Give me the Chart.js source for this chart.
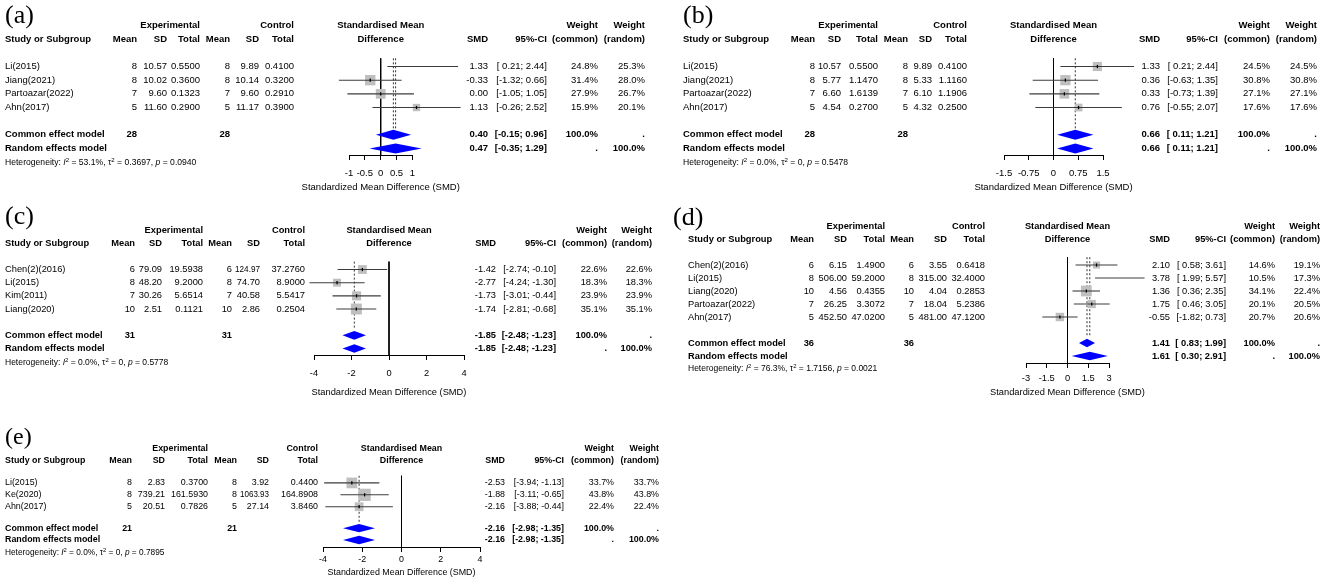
<!DOCTYPE html>
<html>
<head>
<meta charset="utf-8">
<script src="https://cdn.jsdelivr.net/npm/chart.js@4.4.1/dist/chart.umd.min.js"></script>
<style>
  body { margin: 0; background: #fff; width: 1325px; height: 581px; position: relative; overflow: hidden; }
  canvas { position: absolute; }
</style>
</head>
<body>
<canvas id="pa"></canvas>
<canvas id="pb"></canvas>
<canvas id="pc"></canvas>
<canvas id="pd"></canvas>
<canvas id="pe"></canvas>
<script>
// ---- panel (a) ----
const aStudy = ["Li(2015)", "Jiang(2021)", "Partoazar(2022)", "Ahn(2017)"];
const aExpMean = [8, 8, 7, 5];
const aExpSd = [10.57, 10.02, 9.60, 11.60];
const aExpTotal = [0.5500, 0.3600, 0.1323, 0.2900];
const aCtrlMean = [8, 8, 7, 5];
const aCtrlSd = [9.89, 10.14, 9.60, 11.17];
const aCtrlTotal = [0.4100, 0.3200, 0.2910, 0.3900];
const aSmd = [1.33, -0.33, 0.00, 1.13];
const aLow = [0.21, -1.32, -1.05, -0.26];
const aHigh = [2.44, 0.66, 1.05, 2.52];
const aWCommon = [24.8, 31.4, 27.9, 15.9];
const aWRandom = [25.3, 28.0, 26.7, 20.1];
const aCommon = [0.40, -0.15, 0.96];
const aRandom = [0.47, -0.35, 1.29];
const aTotals = [28, 28];
const aHet = [53.1, 0.3697, 0.0940];
const aTicks = [-1, -0.5, 0, 0.5, 1];

// ---- panel (b) ----
const bStudy = ["Li(2015)", "Jiang(2021)", "Partoazar(2022)", "Ahn(2017)"];
const bExpMean = [8, 8, 7, 5];
const bExpSd = [10.57, 5.77, 6.60, 4.54];
const bExpTotal = [0.5500, 1.1470, 1.6139, 0.2700];
const bCtrlMean = [8, 8, 7, 5];
const bCtrlSd = [9.89, 5.33, 6.10, 4.32];
const bCtrlTotal = [0.4100, 1.1160, 1.1906, 0.2500];
const bSmd = [1.33, 0.36, 0.33, 0.76];
const bLow = [0.21, -0.63, -0.73, -0.55];
const bHigh = [2.44, 1.35, 1.39, 2.07];
const bWCommon = [24.5, 30.8, 27.1, 17.6];
const bWRandom = [24.5, 30.8, 27.1, 17.6];
const bCommon = [0.66, 0.11, 1.21];
const bRandom = [0.66, 0.11, 1.21];
const bTotals = [28, 28];
const bHet = [0.0, 0, 0.5478];
const bTicks = [-1.5, -0.75, 0, 0.75, 1.5];

// ---- panel (c) ----
const cStudy = ["Chen(2)(2016)", "Li(2015)", "Kim(2011)", "Liang(2020)"];
const cExpMean = [6, 8, 7, 10];
const cExpSd = [79.09, 48.20, 30.26, 2.51];
const cExpTotal = [19.5938, 9.2000, 5.6514, 0.1121];
const cCtrlMean = [6, 8, 7, 10];
const cCtrlSd = [124.97, 74.70, 40.58, 2.86];
const cCtrlTotal = [37.2760, 8.9000, 5.5417, 0.2504];
const cSmd = [-1.42, -2.77, -1.73, -1.74];
const cLow = [-2.74, -4.24, -3.01, -2.81];
const cHigh = [-0.10, -1.30, -0.44, -0.68];
const cWCommon = [22.6, 18.3, 23.9, 35.1];
const cWRandom = [22.6, 18.3, 23.9, 35.1];
const cCommon = [-1.85, -2.48, -1.23];
const cRandom = [-1.85, -2.48, -1.23];
const cTotals = [31, 31];
const cHet = [0.0, 0, 0.5778];
const cTicks = [-4, -2, 0, 2, 4];

// ---- panel (d) ----
const dStudy = ["Chen(2)(2016)", "Li(2015)", "Liang(2020)", "Partoazar(2022)", "Ahn(2017)"];
const dExpMean = [6, 8, 10, 7, 5];
const dExpSd = [6.15, 506.00, 4.56, 26.25, 452.50];
const dExpTotal = [1.4900, 59.2000, 0.4355, 3.3072, 47.0200];
const dCtrlMean = [6, 8, 10, 7, 5];
const dCtrlSd = [3.55, 315.00, 4.04, 18.04, 481.00];
const dCtrlTotal = [0.6418, 32.4000, 0.2853, 5.2386, 47.1200];
const dSmd = [2.10, 3.78, 1.36, 1.75, -0.55];
const dLow = [0.58, 1.99, 0.36, 0.46, -1.82];
const dHigh = [3.61, 5.57, 2.35, 3.05, 0.73];
const dWCommon = [14.6, 10.5, 34.1, 20.1, 20.7];
const dWRandom = [19.1, 17.3, 22.4, 20.5, 20.6];
const dCommon = [1.41, 0.83, 1.99];
const dRandom = [1.61, 0.30, 2.91];
const dTotals = [36, 36];
const dHet = [76.3, 1.7156, 0.0021];
const dTicks = [-3, -1.5, 0, 1.5, 3];

// ---- panel (e) ----
const eStudy = ["Li(2015)", "Ke(2020)", "Ahn(2017)"];
const eExpMean = [8, 8, 5];
const eExpSd = [2.83, 739.21, 20.51];
const eExpTotal = [0.3700, 161.5930, 0.7826];
const eCtrlMean = [8, 8, 5];
const eCtrlSd = [3.92, 1063.93, 27.14];
const eCtrlTotal = [0.4400, 164.8908, 3.8460];
const eSmd = [-2.53, -1.88, -2.16];
const eLow = [-3.94, -3.11, -3.88];
const eHigh = [-1.13, -0.65, -0.44];
const eWCommon = [33.7, 43.8, 22.4];
const eWRandom = [33.7, 43.8, 22.4];
const eCommon = [-2.16, -2.98, -1.35];
const eRandom = [-2.16, -2.98, -1.35];
const eTotals = [21, 21];
const eHet = [0.0, 0, 0.7895];
const eTicks = [-4, -2, 0, 2, 4];

const FONT = "'Liberation Sans', Arial, sans-serif";
Chart.defaults.font.family = FONT;
Chart.defaults.color = '#000';

const panels = [
  { id: 'pa', label: '(a)', box: [0, 0, 660, 200], labelX: 5, labelBase: 23, labelSize: 26,
    font: 9.5, hetFont: 8.6, row0: 25.5, lineH: 13.67, studyRow: 3, sumRow: 8, hetRow: 10.05,
    axisY: 155, ax0: 349, ax1: 412.4, tickY: 173, titleY: 187, diaH: 5,
    cols: { name: 5, m1: 137, s1: 167, t1: 200, m2: 230, s2: 259, t2: 294, smd: 488, ci: 547, wc: 598, wr: 645 },
    d: { study: aStudy, expMean: aExpMean, expSd: aExpSd, expTotal: aExpTotal, ctrlMean: aCtrlMean, ctrlSd: aCtrlSd,
         ctrlTotal: aCtrlTotal, smd: aSmd, lo: aLow, hi: aHigh, wc: aWCommon, wr: aWRandom,
         common: aCommon, random: aRandom, totals: aTotals, het: aHet, ticks: aTicks } },
  { id: 'pb', label: '(b)', box: [660, 0, 665, 200], labelX: 683, labelBase: 23, labelSize: 26,
    font: 9.5, hetFont: 8.6, row0: 25.5, lineH: 13.67, studyRow: 3, sumRow: 8, hetRow: 10.05,
    axisY: 155, ax0: 1004, ax1: 1103, tickY: 173, titleY: 187, diaH: 5,
    cols: { name: 683, m1: 815, s1: 841, t1: 878, m2: 908, s2: 932, t2: 967, smd: 1160, ci: 1218, wc: 1270, wr: 1317 },
    d: { study: bStudy, expMean: bExpMean, expSd: bExpSd, expTotal: bExpTotal, ctrlMean: bCtrlMean, ctrlSd: bCtrlSd,
         ctrlTotal: bCtrlTotal, smd: bSmd, lo: bLow, hi: bHigh, wc: bWCommon, wr: bWRandom,
         common: bCommon, random: bRandom, totals: bTotals, het: bHet, ticks: bTicks } },
  { id: 'pc', label: '(c)', box: [0, 200, 665, 210], labelX: 5, labelBase: 224, labelSize: 26,
    font: 9.3, hetFont: 8.5, row0: 230, lineH: 13.17, studyRow: 3, sumRow: 8, hetRow: 10.1,
    axisY: 355, ax0: 314, ax1: 464, tickY: 373, titleY: 392, diaH: 4.3,
    cols: { name: 5, m1: 135, s1: 162, t1: 203, m2: 232, s2: 260, t2: 305, smd: 496, ci: 556, wc: 607, wr: 652 },
    d: { study: cStudy, expMean: cExpMean, expSd: cExpSd, expTotal: cExpTotal, ctrlMean: cCtrlMean, ctrlSd: cCtrlSd,
         ctrlTotal: cCtrlTotal, smd: cSmd, lo: cLow, hi: cHigh, wc: cWCommon, wr: cWRandom,
         common: cCommon, random: cRandom, totals: cTotals, het: cHet, ticks: cTicks } },
  { id: 'pd', label: '(d)', box: [665, 200, 660, 210], labelX: 673, labelBase: 224.5, labelSize: 26,
    font: 9.3, hetFont: 8.5, row0: 226, lineH: 13, studyRow: 3, sumRow: 9, hetRow: 11,
    axisY: 363, ax0: 1026, ax1: 1109, tickY: 378, titleY: 392, diaH: 4.2,
    cols: { name: 688, m1: 814, s1: 847, t1: 885, m2: 914, s2: 947, t2: 985, smd: 1170, ci: 1226, wc: 1275, wr: 1320 },
    d: { study: dStudy, expMean: dExpMean, expSd: dExpSd, expTotal: dExpTotal, ctrlMean: dCtrlMean, ctrlSd: dCtrlSd,
         ctrlTotal: dCtrlTotal, smd: dSmd, lo: dLow, hi: dHigh, wc: dWCommon, wr: dWRandom,
         common: dCommon, random: dRandom, totals: dTotals, het: dHet, ticks: dTicks } },
  { id: 'pe', label: '(e)', box: [0, 410, 665, 171], labelX: 5, labelBase: 444, labelSize: 24,
    font: 8.9, hetFont: 8.3, row0: 449, lineH: 11.9, studyRow: 2.85, sumRow: 6.65, hetRow: 8.75,
    axisY: 547, ax0: 323, ax1: 480, tickY: 560, titleY: 573, diaH: 4.2,
    cols: { name: 5, m1: 132, s1: 165, t1: 208, m2: 237, s2: 269, t2: 318, smd: 505, ci: 564, wc: 614, wr: 659 },
    d: { study: eStudy, expMean: eExpMean, expSd: eExpSd, expTotal: eExpTotal, ctrlMean: eCtrlMean, ctrlSd: eCtrlSd,
         ctrlTotal: eCtrlTotal, smd: eSmd, lo: eLow, hi: eHigh, wc: eWCommon, wr: eWRandom,
         common: eCommon, random: eRandom, totals: eTotals, het: eHet, ticks: eTicks } }
];

function fmtCI(lo, hi) {
  return '[' + (lo >= 0 ? ' ' : '') + lo.toFixed(2) + '; ' + hi.toFixed(2) + ']';
}

function txt(ctx, s, x, y, align, bold, size, maxW) {
  ctx.font = (bold ? 'bold ' : '') + size + 'px ' + FONT;
  ctx.textAlign = align;
  ctx.textBaseline = 'middle';
  if (maxW) ctx.fillText(s, x, y, maxW);
  else ctx.fillText(s, x, y);
}

function drawHet(ctx, x, y, size, het) {
  const tau = het[1] === 0 ? '0' : het[1].toFixed(4);
  const segs = [
    ['Heterogeneity: ', ''], ['I', 'i'], ['2', 's'], [' = ' + het[0].toFixed(1) + '%, ', ''],
    ['\u03c4', ''], ['2', 's'], [' = ' + tau + ', ', ''], ['p', 'i'], [' = ' + het[2].toFixed(4), '']
  ];
  let cx = x;
  ctx.textAlign = 'left';
  ctx.textBaseline = 'middle';
  segs.forEach(([t, s]) => {
    const fs = s === 's' ? size * 0.7 : size;
    ctx.font = (s === 'i' ? 'italic ' : '') + fs + 'px ' + FONT;
    ctx.fillText(t, cx, s === 's' ? y - size * 0.35 : y);
    cx += ctx.measureText(t).width;
  });
}

// fill the summary diamonds from the points Chart.js placed
const diamondPlugin = {
  id: 'diamondFill',
  afterDatasetsDraw(chart) {
    const ctx = chart.ctx;
    chart.data.datasets.forEach((ds, i) => {
      if (!ds.diamond) return;
      const pts = chart.getDatasetMeta(i).data;
      ctx.save();
      ctx.beginPath();
      pts.forEach((p, k) => (k ? ctx.lineTo(p.x, p.y) : ctx.moveTo(p.x, p.y)));
      ctx.closePath();
      ctx.fillStyle = '#0000ff';
      ctx.fill();
      ctx.restore();
    });
  }
};

function buildPanel(P) {
  const [L, T, W, H] = P.box;
  const cv = document.getElementById(P.id);
  cv.width = W; cv.height = H;
  cv.style.left = L + 'px'; cv.style.top = T + 'px';
  cv.style.width = W + 'px'; cv.style.height = H + 'px';

  const d = P.d;
  const fs = P.font;
  const lh = fs * 1.2;
  const yMax = (P.axisY - P.row0) / P.lineH;
  const scaleH = P.titleY + lh / 2 - P.axisY;
  const tickPad = P.tickY - P.axisY - 5 - lh / 2;
  const rowOf = i => P.studyRow + i;
  const comRow = P.sumRow, ranRow = P.sumRow + 1;
  const topRef = rowOf(0) - 0.6;
  const hh = P.diaH / P.lineH;

  const datasets = [];
  datasets.push({
    type: 'scatter', order: 0, clip: false,
    data: d.smd.map((v, i) => ({ x: v, y: rowOf(i) })),
    pointStyle: 'line', pointRotation: 90, pointRadius: 1.6,
    pointBorderColor: '#000', pointBorderWidth: 1.3
  });
  d.lo.forEach((lo, i) => datasets.push({
    type: 'line', order: 1, clip: false,
    data: [{ x: lo, y: rowOf(i) }, { x: d.hi[i], y: rowOf(i) }],
    borderColor: '#3c3c3c', borderWidth: 1.1, pointRadius: 0
  }));
  datasets.push({
    type: 'scatter', order: 2, clip: false,
    data: d.smd.map((v, i) => ({ x: v, y: rowOf(i) })),
    pointStyle: 'rect',
    pointRadius: c => 1.85 * Math.sqrt(d.wc[c.dataIndex]) / Math.SQRT2,
    pointBackgroundColor: '#bfbfbf', pointBorderWidth: 0, pointBorderColor: 'rgba(0,0,0,0)'
  });
  [[d.common, comRow], [d.random, ranRow]].forEach(([s, r]) => datasets.push({
    type: 'line', order: 3, clip: false, diamond: true, showLine: false,
    data: [{ x: s[1], y: r }, { x: s[0], y: r - hh }, { x: s[2], y: r }, { x: s[0], y: r + hh }],
    pointRadius: 0
  }));
  datasets.push({
    type: 'line', order: 4, clip: false,
    data: [{ x: 0, y: topRef }, { x: 0, y: yMax }],
    borderColor: '#000', borderWidth: 1, pointRadius: 0
  });
  const ests = d.common[0] === d.random[0] ? [d.common[0]] : [d.common[0], d.random[0]];
  ests.forEach(e => datasets.push({
    type: 'line', order: 4, clip: false,
    data: [{ x: e, y: topRef }, { x: e, y: comRow - 0.45 }],
    borderColor: '#333', borderWidth: 1, borderDash: [2, 2], pointRadius: 0
  }));

  const textPlugin = {
    id: 'tableText',
    afterDraw(chart) {
      const ctx = chart.ctx;
      const ys = chart.scales.y;
      const Y = v => ys.getPixelForValue(v);
      const X = px => px - L;
      const c = P.cols;
      const mid = (chart.chartArea.left + chart.chartArea.right) / 2;
      ctx.save();
      ctx.fillStyle = '#000';
      ctx.font = P.labelSize + "px 'Liberation Serif', 'Times New Roman', serif";
      ctx.textAlign = 'left';
      ctx.textBaseline = 'alphabetic';
      ctx.fillText(P.label, X(P.labelX), P.labelBase - T);

      // headers
      const h0 = Y(0), h1 = Y(1);
      txt(ctx, 'Experimental', X(c.t1), h0, 'right', true, fs);
      txt(ctx, 'Control', X(c.t2), h0, 'right', true, fs);
      txt(ctx, 'Standardised Mean', mid, h0, 'center', true, fs);
      txt(ctx, 'Weight', X(c.wc), h0, 'right', true, fs);
      txt(ctx, 'Weight', X(c.wr), h0, 'right', true, fs);
      txt(ctx, 'Study or Subgroup', X(c.name), h1, 'left', true, fs);
      txt(ctx, 'Mean', X(c.m1), h1, 'right', true, fs);
      txt(ctx, 'SD', X(c.s1), h1, 'right', true, fs);
      txt(ctx, 'Total', X(c.t1), h1, 'right', true, fs);
      txt(ctx, 'Mean', X(c.m2), h1, 'right', true, fs);
      txt(ctx, 'SD', X(c.s2), h1, 'right', true, fs);
      txt(ctx, 'Total', X(c.t2), h1, 'right', true, fs);
      txt(ctx, 'Difference', mid, h1, 'center', true, fs);
      txt(ctx, 'SMD', X(c.smd), h1, 'right', true, fs);
      txt(ctx, '95%-CI', X(c.ci), h1, 'right', true, fs);
      txt(ctx, '(common)', X(c.wc), h1, 'right', true, fs);
      txt(ctx, '(random)', X(c.wr), h1, 'right', true, fs);

      // studies; numeric cells may not run into the column on their left
      const gap = 3;
      d.study.forEach((name, i) => {
        const y = Y(rowOf(i));
        txt(ctx, name, X(c.name), y, 'left', false, fs);
        txt(ctx, String(d.expMean[i]), X(c.m1), y, 'right', false, fs);
        txt(ctx, d.expSd[i].toFixed(2), X(c.s1), y, 'right', false, fs, c.s1 - c.m1 - gap);
        txt(ctx, d.expTotal[i].toFixed(4), X(c.t1), y, 'right', false, fs, c.t1 - c.s1 - gap);
        txt(ctx, String(d.ctrlMean[i]), X(c.m2), y, 'right', false, fs);
        txt(ctx, d.ctrlSd[i].toFixed(2), X(c.s2), y, 'right', false, fs, c.s2 - c.m2 - gap);
        txt(ctx, d.ctrlTotal[i].toFixed(4), X(c.t2), y, 'right', false, fs, c.t2 - c.s2 - gap);
        txt(ctx, d.smd[i].toFixed(2), X(c.smd), y, 'right', false, fs);
        txt(ctx, fmtCI(d.lo[i], d.hi[i]), X(c.ci), y, 'right', false, fs);
        txt(ctx, d.wc[i].toFixed(1) + '%', X(c.wc), y, 'right', false, fs);
        txt(ctx, d.wr[i].toFixed(1) + '%', X(c.wr), y, 'right', false, fs);
      });

      // summary rows
      const yc = Y(comRow), yr = Y(ranRow);
      txt(ctx, 'Common effect model', X(c.name), yc, 'left', true, fs);
      txt(ctx, String(d.totals[0]), X(c.m1), yc, 'right', true, fs);
      txt(ctx, String(d.totals[1]), X(c.m2), yc, 'right', true, fs);
      txt(ctx, d.common[0].toFixed(2), X(c.smd), yc, 'right', true, fs);
      txt(ctx, fmtCI(d.common[1], d.common[2]), X(c.ci), yc, 'right', true, fs);
      txt(ctx, '100.0%', X(c.wc), yc, 'right', true, fs);
      txt(ctx, '.', X(c.wr), yc, 'right', true, fs);
      txt(ctx, 'Random effects model', X(c.name), yr, 'left', true, fs);
      txt(ctx, d.random[0].toFixed(2), X(c.smd), yr, 'right', true, fs);
      txt(ctx, fmtCI(d.random[1], d.random[2]), X(c.ci), yr, 'right', true, fs);
      txt(ctx, '.', X(c.wc), yr, 'right', true, fs);
      txt(ctx, '100.0%', X(c.wr), yr, 'right', true, fs);

      // axis title, drawn here so it is not squeezed to the axis width
      txt(ctx, 'Standardized Mean Difference (SMD)', mid, P.titleY - T, 'center', false, fs);

      drawHet(ctx, X(c.name), Y(P.hetRow), P.hetFont, d.het);
      ctx.restore();
    }
  };

  return new Chart(cv, {
    type: 'scatter',
    data: { datasets },
    options: {
      responsive: false,
      animation: false,
      events: [],
      layout: {
        padding: {
          left: P.ax0 - L,
          right: L + W - P.ax1,
          top: P.row0 - T,
          bottom: T + H - P.axisY - scaleH
        }
      },
      plugins: { legend: { display: false }, tooltip: { enabled: false } },
      scales: {
        x: {
          type: 'linear',
          min: d.ticks[0],
          max: d.ticks[d.ticks.length - 1],
          afterBuildTicks: s => { s.ticks = d.ticks.map(v => ({ value: v })); },
          afterFit: s => { s.height = scaleH; },
          grid: { drawOnChartArea: false, drawTicks: true, tickLength: 5, color: '#000', tickColor: '#000', lineWidth: 1 },
          border: { display: true, color: '#000', width: 1 },
          ticks: { padding: tickPad, font: { size: fs }, color: '#000', maxRotation: 0, autoSkip: false,
                   callback: v => String(v) },
          title: { display: false }
        },
        y: { type: 'linear', display: false, min: 0, max: yMax, reverse: true }
      }
    },
    plugins: [diamondPlugin, textPlugin]
  });
}

panels.forEach(buildPanel);
</script>
</body>
</html>
